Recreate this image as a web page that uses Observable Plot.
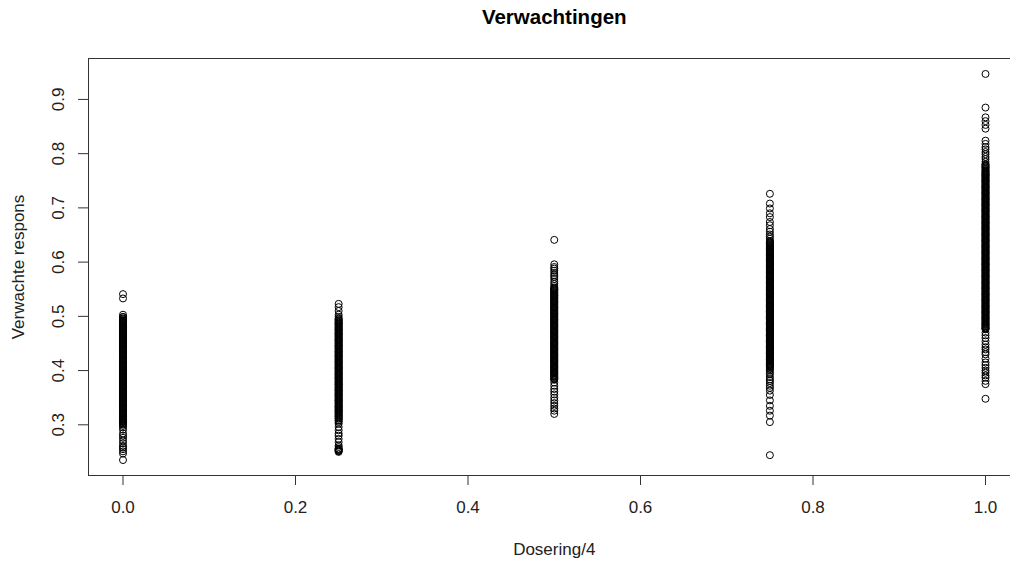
<!DOCTYPE html>
<html>
<head>
<meta charset="utf-8">
<script src="https://cdn.jsdelivr.net/npm/d3@7"></script>
<script src="https://cdn.jsdelivr.net/npm/@observablehq/plot@0.6"></script>
<style>
  html, body { margin: 0; padding: 0; background: #fff; overflow: hidden; }
  #chart { width: 1010px; height: 561px; overflow: hidden; }
  #chart svg { max-width: none !important; display: block; }
</style>
</head>
<body>
<div id="chart"></div>
<script>
const titleText = "Verwachtingen";
const xLabel = "Dosering/4";
const yLabel = "Verwachte respons";
const xTicks = [0, 0.2, 0.4, 0.6, 0.8, 1.0];
const yTicks = [0.3, 0.4, 0.5, 0.6, 0.7, 0.8, 0.9];
const doseLevels = [0, 0.25, 0.5, 0.75, 1];

const resp0 = [0.541, 0.533, 0.503, 0.499, 0.496, 0.493, 0.490, 0.488, 0.485, 0.482, 0.479, 0.477, 0.474, 0.471, 0.468, 0.466, 0.463, 0.460, 0.457, 0.455, 0.452, 0.449, 0.447, 0.444, 0.441, 0.438, 0.436, 0.433, 0.430, 0.428, 0.425, 0.422, 0.419, 0.417, 0.414, 0.411, 0.408, 0.406, 0.403, 0.400, 0.398, 0.395, 0.392, 0.389, 0.387, 0.384, 0.381, 0.379, 0.376, 0.373, 0.370, 0.368, 0.365, 0.362, 0.359, 0.357, 0.354, 0.351, 0.349, 0.346, 0.343, 0.340, 0.338, 0.335, 0.332, 0.330, 0.327, 0.324, 0.321, 0.319, 0.316, 0.313, 0.310, 0.308, 0.305, 0.302, 0.298, 0.295, 0.291, 0.284, 0.280, 0.276, 0.271, 0.266, 0.261, 0.258, 0.255, 0.251, 0.247, 0.235];
const resp0b = [0.4985, 0.4945, 0.4915, 0.4895, 0.4865, 0.4835, 0.4805, 0.4785, 0.4755, 0.4725, 0.4695, 0.4675, 0.4645, 0.4615, 0.4585, 0.4565, 0.4535, 0.4505, 0.4485, 0.4455, 0.4425, 0.4395, 0.4375, 0.4345, 0.4315, 0.4295, 0.4265, 0.4235, 0.4205, 0.4185, 0.4155, 0.4125, 0.4095, 0.4075, 0.4045, 0.4015, 0.3995, 0.3965, 0.3935, 0.3905, 0.3885, 0.3855, 0.3825, 0.3805, 0.3775, 0.3745, 0.3715, 0.3695, 0.3665, 0.3635, 0.3605, 0.3585, 0.3555, 0.3525, 0.3505, 0.3475, 0.3445, 0.3415, 0.3395, 0.3365, 0.3335, 0.3315, 0.3285, 0.3255, 0.3225, 0.3205, 0.3175, 0.3145, 0.3115, 0.3095, 0.3065, 0.3035, 0.3005];

const resp25 = [0.523, 0.517, 0.510, 0.503, 0.499, 0.496, 0.493, 0.490, 0.487, 0.485, 0.482, 0.479, 0.476, 0.474, 0.471, 0.468, 0.466, 0.463, 0.460, 0.457, 0.455, 0.452, 0.449, 0.446, 0.444, 0.441, 0.438, 0.435, 0.433, 0.430, 0.427, 0.425, 0.422, 0.419, 0.416, 0.414, 0.411, 0.408, 0.405, 0.403, 0.400, 0.397, 0.394, 0.392, 0.389, 0.386, 0.384, 0.381, 0.378, 0.375, 0.373, 0.370, 0.367, 0.364, 0.362, 0.359, 0.356, 0.354, 0.351, 0.348, 0.345, 0.343, 0.340, 0.337, 0.334, 0.332, 0.329, 0.326, 0.324, 0.321, 0.318, 0.315, 0.312, 0.309, 0.305, 0.302, 0.296, 0.290, 0.284, 0.280, 0.274, 0.268, 0.262, 0.259, 0.256, 0.254, 0.252, 0.250];
const resp25b = [0.4945, 0.4915, 0.4885, 0.4865, 0.4835, 0.4805, 0.4775, 0.4755, 0.4725, 0.4695, 0.4675, 0.4645, 0.4615, 0.4585, 0.4565, 0.4535, 0.4505, 0.4475, 0.4455, 0.4425, 0.4395, 0.4365, 0.4345, 0.4315, 0.4285, 0.4265, 0.4235, 0.4205, 0.4175, 0.4155, 0.4125, 0.4095, 0.4065, 0.4045, 0.4015, 0.3985, 0.3955, 0.3935, 0.3905, 0.3875, 0.3855, 0.3825, 0.3795, 0.3765, 0.3745, 0.3715, 0.3685, 0.3655, 0.3635, 0.3605, 0.3575, 0.3555, 0.3525, 0.3495, 0.3465, 0.3445, 0.3415, 0.3385, 0.3355, 0.3335, 0.3305, 0.3275, 0.3255, 0.3225, 0.3195, 0.3165, 0.3145, 0.3115, 0.3075, 0.2535, 0.2515, 0.2555];

const resp50 = [0.641, 0.596, 0.591, 0.588, 0.584, 0.580, 0.576, 0.573, 0.569, 0.564, 0.560, 0.556, 0.553, 0.550, 0.548, 0.545, 0.542, 0.539, 0.537, 0.534, 0.531, 0.528, 0.526, 0.523, 0.520, 0.517, 0.515, 0.512, 0.509, 0.506, 0.504, 0.501, 0.498, 0.495, 0.493, 0.490, 0.487, 0.484, 0.482, 0.479, 0.476, 0.473, 0.471, 0.468, 0.465, 0.462, 0.460, 0.457, 0.454, 0.451, 0.449, 0.446, 0.443, 0.440, 0.438, 0.435, 0.432, 0.429, 0.427, 0.424, 0.421, 0.418, 0.416, 0.413, 0.410, 0.407, 0.405, 0.402, 0.399, 0.396, 0.394, 0.391, 0.388, 0.385, 0.383, 0.378, 0.372, 0.366, 0.361, 0.356, 0.350, 0.345, 0.340, 0.335, 0.330, 0.326, 0.320];
const resp50b = [0.5515, 0.5495, 0.5465, 0.5435, 0.5405, 0.5385, 0.5355, 0.5325, 0.5295, 0.5275, 0.5245, 0.5215, 0.5185, 0.5165, 0.5135, 0.5105, 0.5075, 0.5055, 0.5025, 0.4995, 0.4965, 0.4945, 0.4915, 0.4885, 0.4855, 0.4835, 0.4805, 0.4775, 0.4745, 0.4725, 0.4695, 0.4665, 0.4635, 0.4615, 0.4585, 0.4555, 0.4525, 0.4505, 0.4475, 0.4445, 0.4415, 0.4395, 0.4365, 0.4335, 0.4305, 0.4285, 0.4255, 0.4225, 0.4195, 0.4175, 0.4145, 0.4115, 0.4085, 0.4065, 0.4035, 0.4005, 0.3975, 0.3955, 0.3925, 0.3895, 0.3865, 0.3845];

const resp75 = [0.726, 0.708, 0.699, 0.690, 0.683, 0.674, 0.668, 0.661, 0.656, 0.651, 0.647, 0.643, 0.639, 0.636, 0.633, 0.630, 0.628, 0.625, 0.622, 0.619, 0.617, 0.614, 0.611, 0.608, 0.606, 0.603, 0.600, 0.597, 0.595, 0.592, 0.589, 0.586, 0.584, 0.581, 0.578, 0.575, 0.573, 0.570, 0.567, 0.564, 0.562, 0.559, 0.556, 0.553, 0.551, 0.548, 0.545, 0.542, 0.540, 0.537, 0.534, 0.531, 0.529, 0.526, 0.523, 0.520, 0.518, 0.515, 0.512, 0.509, 0.507, 0.504, 0.501, 0.498, 0.496, 0.493, 0.490, 0.487, 0.485, 0.482, 0.479, 0.476, 0.474, 0.471, 0.468, 0.465, 0.463, 0.460, 0.457, 0.454, 0.452, 0.449, 0.446, 0.443, 0.441, 0.438, 0.435, 0.432, 0.430, 0.427, 0.424, 0.421, 0.419, 0.416, 0.413, 0.410, 0.408, 0.405, 0.400, 0.396, 0.393, 0.388, 0.384, 0.381, 0.377, 0.372, 0.368, 0.363, 0.355, 0.345, 0.335, 0.326, 0.317, 0.305, 0.244];
const resp75b = [0.6375, 0.6345, 0.6315, 0.6295, 0.6265, 0.6235, 0.6205, 0.6185, 0.6155, 0.6125, 0.6095, 0.6075, 0.6045, 0.6015, 0.5985, 0.5965, 0.5935, 0.5905, 0.5875, 0.5855, 0.5825, 0.5795, 0.5765, 0.5745, 0.5715, 0.5685, 0.5655, 0.5635, 0.5605, 0.5575, 0.5545, 0.5525, 0.5495, 0.5465, 0.5435, 0.5415, 0.5385, 0.5355, 0.5325, 0.5305, 0.5275, 0.5245, 0.5215, 0.5195, 0.5165, 0.5135, 0.5105, 0.5085, 0.5055, 0.5025, 0.4995, 0.4975, 0.4945, 0.4915, 0.4885, 0.4865, 0.4835, 0.4805, 0.4775, 0.4755, 0.4725, 0.4695, 0.4665, 0.4645, 0.4615, 0.4585, 0.4555, 0.4535, 0.4505, 0.4475, 0.4445, 0.4425, 0.4395, 0.4365, 0.4335, 0.4315, 0.4285, 0.4255, 0.4225, 0.4205, 0.4175, 0.4145, 0.4115, 0.4095, 0.4065, 0.4025];

const resp100 = [0.947, 0.885, 0.867, 0.860, 0.853, 0.846, 0.824, 0.818, 0.812, 0.808, 0.803, 0.799, 0.794, 0.790, 0.785, 0.781, 0.778, 0.775, 0.772, 0.770, 0.767, 0.764, 0.761, 0.759, 0.756, 0.753, 0.750, 0.748, 0.745, 0.742, 0.739, 0.737, 0.734, 0.731, 0.728, 0.726, 0.723, 0.720, 0.717, 0.715, 0.712, 0.709, 0.706, 0.704, 0.701, 0.698, 0.695, 0.693, 0.690, 0.687, 0.684, 0.682, 0.679, 0.676, 0.673, 0.671, 0.668, 0.665, 0.662, 0.660, 0.657, 0.654, 0.651, 0.649, 0.646, 0.643, 0.640, 0.638, 0.635, 0.632, 0.629, 0.627, 0.624, 0.621, 0.618, 0.616, 0.613, 0.610, 0.607, 0.605, 0.602, 0.599, 0.596, 0.594, 0.591, 0.588, 0.585, 0.583, 0.580, 0.577, 0.574, 0.572, 0.569, 0.566, 0.563, 0.561, 0.558, 0.555, 0.552, 0.550, 0.547, 0.544, 0.541, 0.539, 0.536, 0.533, 0.530, 0.528, 0.525, 0.522, 0.519, 0.517, 0.514, 0.511, 0.508, 0.506, 0.503, 0.500, 0.497, 0.495, 0.492, 0.489, 0.486, 0.484, 0.481, 0.478, 0.476, 0.470, 0.465, 0.460, 0.454, 0.448, 0.443, 0.439, 0.434, 0.430, 0.422, 0.415, 0.410, 0.405, 0.400, 0.396, 0.391, 0.387, 0.381, 0.375, 0.348];
const resp100b = [0.7795, 0.7765, 0.7735, 0.7685, 0.7655, 0.7625, 0.7605, 0.7575, 0.7545, 0.7515, 0.7495, 0.7465, 0.7435, 0.7405, 0.7385, 0.7355, 0.7325, 0.7295, 0.7275, 0.7245, 0.7215, 0.7185, 0.7165, 0.7135, 0.7105, 0.7075, 0.7055, 0.7025, 0.6995, 0.6965, 0.6945, 0.6915, 0.6885, 0.6855, 0.6835, 0.6805, 0.6775, 0.6745, 0.6725, 0.6695, 0.6665, 0.6635, 0.6615, 0.6585, 0.6555, 0.6525, 0.6505, 0.6475, 0.6445, 0.6415, 0.6395, 0.6365, 0.6335, 0.6305, 0.6285, 0.6255, 0.6225, 0.6195, 0.6175, 0.6145, 0.6115, 0.6085, 0.6065, 0.6035, 0.6005, 0.5975, 0.5955, 0.5925, 0.5895, 0.5865, 0.5845, 0.5815, 0.5785, 0.5755, 0.5735, 0.5705, 0.5675, 0.5645, 0.5625, 0.5595, 0.5565, 0.5535, 0.5515, 0.5485, 0.5455, 0.5425, 0.5405, 0.5375, 0.5345, 0.5315, 0.5295, 0.5265, 0.5235, 0.5205, 0.5185, 0.5155, 0.5125, 0.5095, 0.5075, 0.5045, 0.5015, 0.4985, 0.4965, 0.4935, 0.4905, 0.4875, 0.4855, 0.4825, 0.4795, 0.4775];

const responses = [resp0.concat(resp0b), resp25.concat(resp25b), resp50.concat(resp50b), resp75.concat(resp75b), resp100.concat(resp100b)];
const points = doseLevels.flatMap((d, i) => responses[i].map(v => ({dose: d, resp: v})));

// R-style 4% range expansion
const allY = points.map(p => p.resp);
const yMin = d3.min(allY), yMax = d3.max(allY);
const yPad = (yMax - yMin) * 0.04;
const xPad = (d3.max(doseLevels) - d3.min(doseLevels)) * 0.04;

const ink = "#222";
const fmt = d3.format(".1f");

const chart = Plot.plot({
  width: 1020,
  height: 561,
  marginLeft: 88,
  marginRight: 0.5,
  marginTop: 58,
  marginBottom: 86,
  style: {fontFamily: "'Liberation Sans', Arial, sans-serif", fontSize: "17px", color: ink, background: "#fff", overflow: "visible", maxWidth: "none"},
  x: {domain: [d3.min(doseLevels) - xPad, d3.max(doseLevels) + xPad], axis: null},
  y: {domain: [yMin - yPad, yMax + yPad], axis: null},
  marks: [
    Plot.frame({stroke: "#333", strokeWidth: 1}),
    Plot.axisX({ticks: xTicks, tickSize: 10, tickPadding: 15, tickFormat: fmt, fontSize: 17, fill: ink, stroke: "#333", label: null}),
    Plot.axisY({ticks: yTicks, tickSize: 10, tickFormat: () => "", stroke: "#333", label: null}),
    Plot.text(yTicks, {y: d => d, text: d => fmt(d), frameAnchor: "left", dx: -30, rotate: -90, textAnchor: "middle", lineAnchor: "middle", fontSize: 17, fill: ink}),
    Plot.text([xLabel], {text: d => d, frameAnchor: "bottom", dy: 74, lineAnchor: "middle", fontSize: 17, fill: ink}),
    Plot.text([yLabel], {text: d => d, frameAnchor: "left", dx: -70, rotate: -90, textAnchor: "middle", lineAnchor: "middle", fontSize: 17, fill: ink}),
    Plot.text([titleText], {text: d => d, frameAnchor: "top", dy: -41, lineAnchor: "middle", fontSize: 20.5, fontWeight: "bold", fill: "#000"}),
    Plot.dot(points, {x: "dose", y: "resp", r: 3.5, stroke: "#000", strokeWidth: 1, fill: "none"})
  ]
});
document.getElementById("chart").appendChild(chart);
</script>
</body>
</html>
